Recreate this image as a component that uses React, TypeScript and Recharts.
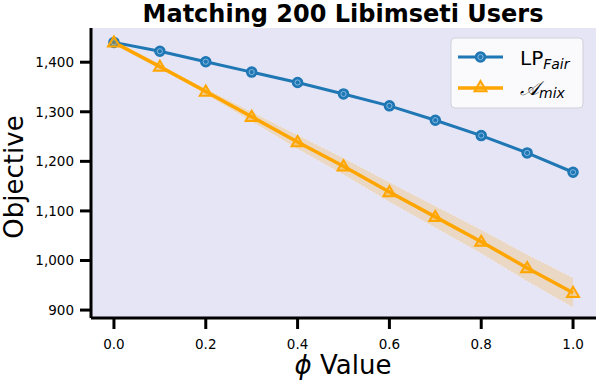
import React from 'react';
import {
  ComposedChart, Line, Area, XAxis, YAxis, CartesianGrid,
} from 'recharts';

const phiValues = [0, 0.1, 0.2, 0.3, 0.4, 0.5, 0.6, 0.7, 0.8, 0.9, 1.0];
const lpFair = [1440, 1422, 1401, 1380, 1359, 1336, 1312, 1283, 1252, 1217, 1178];
const aMix = [1440, 1391, 1341, 1290, 1239, 1190, 1138, 1088, 1038, 985, 935];
const aMixSpread = [0, 3, 6, 10, 14, 17, 20, 22, 24, 27, 30];
const xTicks = [0, 0.2, 0.4, 0.6, 0.8, 1.0];
const yTicks = [900, 1000, 1100, 1200, 1300, 1400];

const data = phiValues.map((p, i) => ({
  phi: p,
  lp: lpFair[i],
  mix: aMix[i],
  band: [aMix[i] - aMixSpread[i], aMix[i] + aMixSpread[i]],
}));

const BLUE = '#1f77b4';
const ORANGE = '#ffa500';
const FONT = '"DejaVu Sans", sans-serif';

const CircleDot = (props: any) => {
  const { cx, cy } = props;
  if (cx == null || cy == null) return null;
  return (
    <g>
      <circle cx={cx} cy={cy} r={5} fill={BLUE} stroke={BLUE} strokeWidth={1.5} />
      <circle cx={cx} cy={cy} r={2.6} fill="none" stroke="#8fbfe6" strokeWidth={0.9} />
    </g>
  );
};

const TriDot = (props: any) => {
  const { cx, cy } = props;
  if (cx == null || cy == null) return null;
  const s = 6;
  const pts = `${cx},${cy - s} ${cx - s},${cy + s * 0.7} ${cx + s},${cy + s * 0.7}`;
  return (
    <polygon points={pts} fill={ORANGE} fillOpacity={0.35} stroke={ORANGE} strokeWidth={2} strokeLinejoin="miter" />
  );
};

const LegendBox = () => (
  <svg width={134} height={72} style={{ display: 'block' }}>
    <rect x={1} y={1} width={132} height={70} rx={4} ry={4} fill="#fafafd" stroke="#d0d0d8" strokeWidth={1} />
    <line x1={8} y1={20} x2={53} y2={20} stroke={BLUE} strokeWidth={3} />
    <CircleDot cx={30.5} cy={20} />
    <text x={70} y={28} fontFamily={FONT} fontSize={20} fill="#000">
      LP<tspan fontSize={14} fontStyle="italic" dy={4}>Fair</tspan>
    </text>
    <line x1={8} y1={51} x2={53} y2={51} stroke={ORANGE} strokeWidth={3.5} />
    <TriDot cx={30.5} cy={50} />
    <text x={70} y={58} fontFamily={FONT} fontSize={20} fill="#000">
      <tspan fontStyle="italic">𝒜</tspan>
      <tspan fontSize={14} fontStyle="italic" dy={3}>mix</tspan>
    </text>
  </svg>
);

export default function App() {
  return (
    <div style={{ position: 'absolute', left: 0, top: 0, width: 596, height: 380, background: '#fff', fontFamily: FONT, overflow: 'hidden' }}>
      <ComposedChart
        width={596}
        height={380}
        data={data}
        margin={{ top: 28, right: 0, left: 0, bottom: 0 }}
      >
        <CartesianGrid horizontal={false} vertical={false} fill="#e5e5f6" stroke="none" />
        <XAxis
          dataKey="phi"
          type="number"
          domain={[-0.05, 1.05]}
          ticks={xTicks}
          tickFormatter={(v: number) => v.toFixed(1)}
          height={62}
          tickSize={11}
          tickMargin={10}
          axisLine={{ stroke: '#000', strokeWidth: 3 }}
          tickLine={{ stroke: '#000', strokeWidth: 3 }}
          tick={{ fontSize: 13.5, fill: '#000', fontFamily: FONT }}
        />
        <YAxis
          type="number"
          domain={[884, 1469]}
          ticks={yTicks}
          tickFormatter={(v: number) => v.toLocaleString('en-US')}
          width={91}
          tickSize={11}
          tickMargin={6}
          axisLine={{ stroke: '#000', strokeWidth: 3 }}
          tickLine={{ stroke: '#000', strokeWidth: 3 }}
          tick={{ fontSize: 13.5, fill: '#000', fontFamily: FONT }}
        />
        <Area
          dataKey="band"
          type="linear"
          stroke="#ffffff"
          strokeOpacity={0.35}
          strokeDasharray="2 2"
          strokeWidth={1}
          fill={ORANGE}
          fillOpacity={0.2}
          isAnimationActive={false}
          activeDot={false}
        />
        <Line
          dataKey="lp"
          type="linear"
          stroke={BLUE}
          strokeWidth={3}
          dot={<CircleDot />}
          activeDot={false}
          isAnimationActive={false}
        />
        <Line
          dataKey="mix"
          type="linear"
          stroke={ORANGE}
          strokeWidth={3.5}
          dot={<TriDot />}
          activeDot={false}
          isAnimationActive={false}
        />
      </ComposedChart>
      <div style={{ position: 'absolute', left: 450, top: 37 }}>
        <LegendBox />
      </div>
      <div style={{ position: 'absolute', left: 0, width: 686, top: 0, textAlign: 'center', fontSize: 24, fontWeight: 'bold', lineHeight: 'normal', color: '#000', whiteSpace: 'nowrap' }}>
        Matching 200 Libimseti Users
      </div>
      <div style={{ position: 'absolute', left: 0, width: 686, top: 350, textAlign: 'center', fontSize: 26, lineHeight: '30px', color: '#000' }}>
        <span style={{ fontStyle: 'italic' }}>ϕ</span> Value
      </div>
      <div style={{ position: 'absolute', left: 14 - 100, top: 177 - 15, width: 200, height: 30, textAlign: 'center', fontSize: 26, lineHeight: '30px', color: '#000', transform: 'rotate(-90deg)' }}>
        Objective
      </div>
    </div>
  );
}
